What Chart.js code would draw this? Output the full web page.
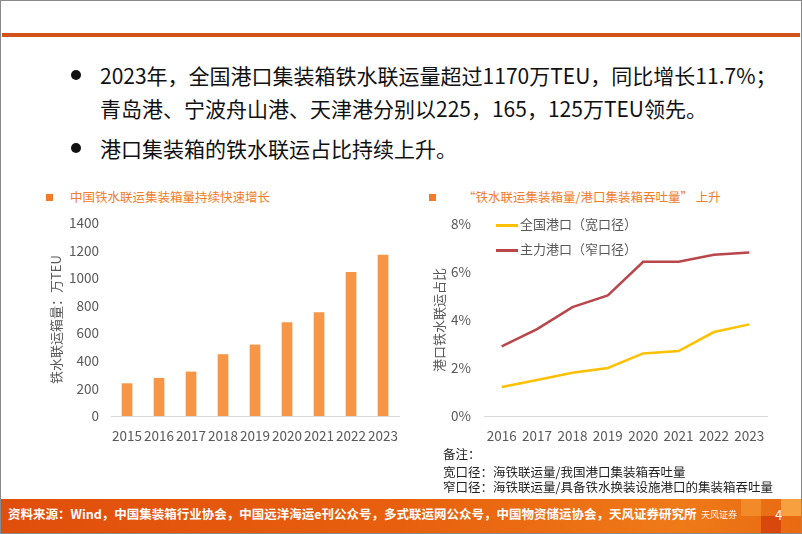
<!DOCTYPE html>
<html><head><meta charset="utf-8">
<script src="https://cdn.jsdelivr.net/npm/chart.js@4"></script>
<style>
html,body{margin:0;padding:0;background:#fff;}
#page{position:relative;width:800px;height:532px;border:1px solid #8a8a8a;overflow:hidden;font-family:"Noto Sans CJK SC","Noto Sans",sans-serif;background:#fff;}
.abs{position:absolute;white-space:nowrap;}
.bullet{position:absolute;width:10px;height:10px;border-radius:50%;background:#111;}
.bt{font-size:21px;color:#111;line-height:1;}
.ttl{font-size:12.5px;color:#f07c28;line-height:1;}
.sq{position:absolute;width:7px;height:7px;background:#f07c28;}
.note{font-size:12.5px;color:#222;line-height:1;}
canvas{position:absolute;}
</style></head>
<body><div id="page">
<div class="abs" style="left:1px;top:32px;width:798px;height:4px;background:#d2521c;"></div>

<div class="bullet" style="left:70px;top:69px;"></div>
<div class="abs bt" style="left:99px;top:64px;">2023年，全国港口集装箱铁水联运量超过1170万TEU，同比增长11.7%；</div>
<div class="abs bt" style="left:99px;top:97px;">青岛港、宁波舟山港、天津港分别以225，165，125万TEU领先。</div>
<div class="bullet" style="left:70px;top:142px;"></div>
<div class="abs bt" style="left:99px;top:137px;">港口集装箱的铁水联运占比持续上升。</div>

<div class="sq" style="left:45px;top:193px;"></div>
<div class="abs ttl" style="left:69px;top:190px;">中国铁水联运集装箱量持续快速增长</div>
<div class="sq" style="left:428px;top:193px;"></div>
<div class="abs ttl" style="left:462px;top:190px;">“铁水联运集装箱量/港口集装箱吞吐量” 上升</div>

<canvas id="c1" width="370" height="248" style="left:40px;top:202px;"></canvas>
<canvas id="c2" width="370" height="248" style="left:420px;top:202px;"></canvas>

<div id="lg"></div>

<div class="abs note" style="left:442px;top:447px;">备注：</div>
<div class="abs note" style="left:442px;top:465px;">宽口径：海铁联运量/我国港口集装箱吞吐量</div>
<div class="abs note" style="left:442px;top:480px;">窄口径：海铁联运量/具备铁水换装设施港口的集装箱吞吐量</div>

<div class="abs" style="left:0;top:498px;width:800px;height:34px;background:linear-gradient(90deg,#e04e0c 0%,#e8600e 50%,#ef7a18 85%,#e86a12 100%);"></div>
<div class="abs" style="left:740px;top:498px;width:20px;height:17px;background:#f28a2a;"></div>
<div class="abs" style="left:760px;top:515px;width:20px;height:17px;background:#d8480c;"></div>
<div class="abs" style="left:780px;top:498px;width:20px;height:17px;background:#f6a040;"></div>
<div class="abs" style="left:7px;top:507px;font-size:12.5px;font-weight:bold;color:#fff;line-height:1;">资料来源：Wind，中国集装箱行业协会，中国远洋海运e刊公众号，多式联运网公众号，中国物资储运协会，天风证券研究所</div>
<div class="abs" style="left:700px;top:509px;font-size:9px;color:#fff;line-height:1;">天风证券</div>
<div class="abs" style="left:774px;top:507px;font-size:13px;color:#fff;line-height:1;">4</div>
</div>
<script>
const years1 = ['2015','2016','2017','2018','2019','2020','2021','2022','2023'];
const volume = [235, 274, 320, 446, 516, 678, 751, 1042, 1168];
const years2 = ['2016','2017','2018','2019','2020','2021','2022','2023'];
const wideShare = [1.21, 1.5, 1.8, 2.0, 2.61, 2.71, 3.5, 3.82];
const narrowShare = [2.9, 3.62, 4.54, 5.03, 6.43, 6.43, 6.72, 6.82];
const seriesNames = ['全国港口（宽口径）','主力港口（窄口径）'];
const seriesColors = ['#FFC000','#B8464B'];

const FONT = '"Noto Sans CJK SC","Noto Sans",sans-serif';
const GRAY = '#595959';
Chart.defaults.font.family = FONT;
Chart.defaults.color = GRAY;

new Chart(document.getElementById('c1'), {
  type: 'bar',
  data: { labels: years1, datasets: [{ data: volume, backgroundColor: '#F79646', barThickness: 10 }] },
  options: {
    responsive: false, animation: false,
    layout: { padding: { left: 3, right: 12, top: 5, bottom: 0 } },
    plugins: { legend: { display: false }, tooltip: { enabled: false } },
    scales: {
      x: {
        grid: { display: false, drawTicks: false },
        border: { display: true, color: '#d9d9d9', width: 1 },
        ticks: { color: GRAY, font: { size: 13.5 }, padding: 12, maxRotation: 0, autoSkip: false },
        afterFit(s) { s.height = 35; }
      },
      y: {
        min: 0, max: 1400,
        grid: { display: false, drawTicks: false },
        border: { display: false },
        ticks: { stepSize: 200, color: GRAY, font: { size: 13.5 }, padding: 12, callback: v => String(v) },
        title: { display: true, text: '铁水联运箱量：万TEU', color: GRAY, font: { size: 13 }, padding: 4 },
        afterFit(s) { s.width = 67; }
      }
    }
  }
});

new Chart(document.getElementById('c2'), {
  type: 'line',
  data: { labels: years2, datasets: [
    { label: seriesNames[0], data: wideShare, borderColor: seriesColors[0], borderWidth: 2.5, pointRadius: 0, fill: false, tension: 0 },
    { label: seriesNames[1], data: narrowShare, borderColor: seriesColors[1], borderWidth: 2.5, pointRadius: 0, fill: false, tension: 0 }
  ]},
  options: {
    responsive: false, animation: false,
    layout: { padding: { left: 6, right: 24, top: 5, bottom: 0 } },
    plugins: { legend: { display: false }, tooltip: { enabled: false } },
    scales: {
      x: {
        offset: true,
        grid: { display: false, drawTicks: false },
        border: { display: true, color: '#d9d9d9', width: 1 },
        ticks: { color: GRAY, font: { size: 13.5 }, padding: 12, maxRotation: 0, autoSkip: false },
        afterFit(s) { s.height = 35; }
      },
      y: {
        min: 0, max: 8,
        grid: { display: false, drawTicks: false },
        border: { display: false },
        ticks: { stepSize: 2, color: GRAY, font: { size: 13.5 }, padding: 13, callback: v => v + '%' },
        title: { display: true, text: '港口铁水联运占比', color: GRAY, font: { size: 13 }, padding: 4 },
        afterFit(s) { s.width = 57; }
      }
    }
  }
});

// legend (HTML, from series names/colors)
const lg = document.getElementById('lg');
seriesNames.forEach((n, i) => {
  const y = 224 + i * 25;
  const line = document.createElement('div');
  line.className = 'abs';
  line.style.cssText = `left:495px;top:${y - 1}px;width:22px;height:2.5px;background:${seriesColors[i]};`;
  lg.appendChild(line);
  const t = document.createElement('div');
  t.className = 'abs';
  t.style.cssText = `left:519px;top:${y - 8}px;font-size:13px;color:${GRAY};line-height:1;`;
  t.textContent = n;
  lg.appendChild(t);
});
</script>
</body></html>
